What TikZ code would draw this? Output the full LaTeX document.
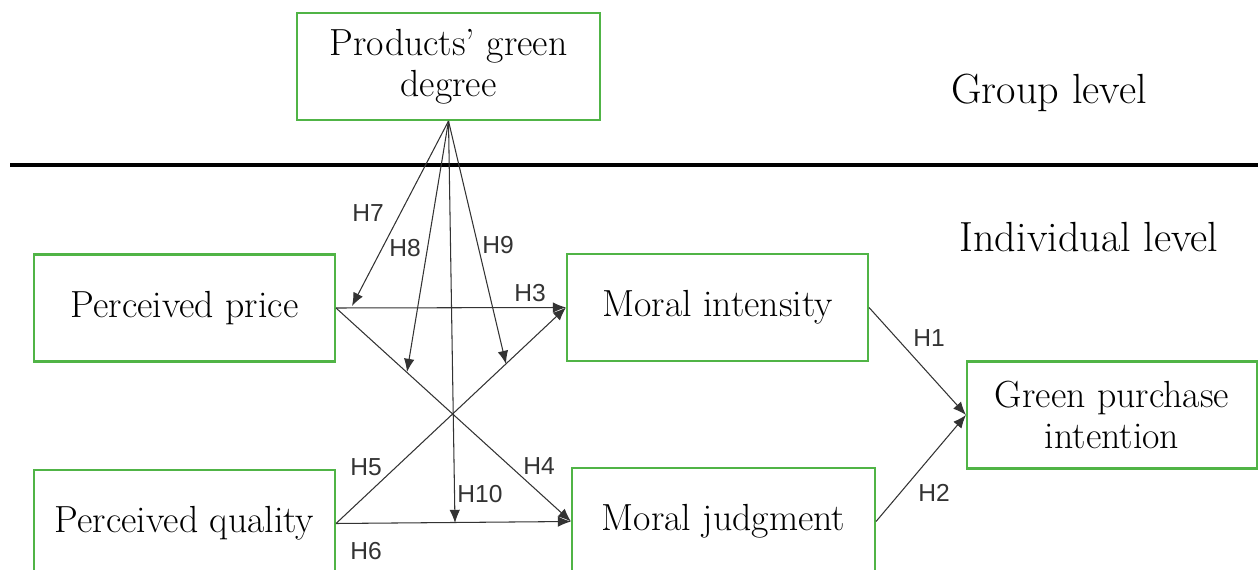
\documentclass[tikz,border=0pt]{standalone}
\usepackage{fontspec}
\newfontfamily\hypfont{Liberation Sans}
\usetikzlibrary{arrows.meta}
\definecolor{boxgreen}{RGB}{80,180,70}

\tikzset{
  varbox/.style={draw=boxgreen, line width=1.2pt, minimum width=6.02cm,
    minimum height=2.14cm, inner sep=0pt, align=center,
    font=\fontsize{21.5}{23.5}\selectfont},
  hyparrow/.style={draw=black!80, line width=0.6pt,
    -{Latex[length=7.5pt,width=6pt]}},
  hyplabel/.style={font=\hypfont\fontsize{14}{16}\selectfont, text=black!80, inner sep=0pt},
  levellabel/.style={font=\fontsize{24}{26}\selectfont}
}

\begin{document}
\begin{tikzpicture}[x=0.02cm, y=-0.02cm]
    \clip (0,0) rectangle (1258,570);
    % Boxes of the model
    \node[varbox, minimum width=6.06cm] (pgd) at (448.5,66.5) {Products’ green\\degree};
    \node[varbox] (price) at (184.5,308) {Perceived price};
    \node[varbox] (intensity) at (717.5,307.5) {Moral intensity};
    \node[varbox, minimum width=5.80cm] (gpi) at (1112,415) {Green purchase\\intention};
    \node[varbox] (quality) at (184.5,523.5) {Perceived quality};
    \node[varbox, minimum width=6.06cm] (judgment) at (723.5,521.5) {Moral judgment};
    % Levels
    \coordinate (sepL) at (10,165); % Left end
    \coordinate (sepR) at (1258,165); % Right end
    \draw[line width=1.8pt] (sepL) -- (sepR);
    \node[levellabel] (group) at (1049,93) {Group level};
    \node[levellabel] (indiv) at (1089,237) {Individual level};
    % Ends of the moderating arrows
    \coordinate (h7end)  at (352,306); % On H3
    \coordinate (h8end)  at (407,372); % On H4
    \coordinate (h9end)  at (506,364); % On H5
    \coordinate (h10end) at (455,523); % On H6
    \draw[hyparrow] (price.east) -- (intensity.west);
    \draw[hyparrow] (price.east) -- (judgment.west);
    \draw[hyparrow] (quality.east) -- (intensity.west);
    \draw[hyparrow] (quality.east) -- (judgment.west);
    \draw[hyparrow] (intensity.east) -- (gpi.west);
    \draw[hyparrow] (judgment.east) -- (gpi.west);
    \draw[hyparrow] (pgd.south) -- (h7end);
    \draw[hyparrow] (pgd.south) -- (h8end);
    \draw[hyparrow] (pgd.south) -- (h9end);
    \draw[hyparrow] (pgd.south) -- (h10end);
    % Hypothesis labels
    \node[hyplabel] (lh1)  at (929,338) {H1};
    \node[hyplabel] (lh2)  at (934,493) {H2};
    \node[hyplabel] (lh3)  at (530,293) {H3};
    \node[hyplabel] (lh4)  at (539,466) {H4};
    \node[hyplabel] (lh5)  at (366,467) {H5};
    \node[hyplabel] (lh6)  at (366,551) {H6};
    \node[hyplabel] (lh7)  at (368,213) {H7};
    \node[hyplabel] (lh8)  at (405,248) {H8};
    \node[hyplabel] (lh9)  at (498,245) {H9};
    \node[hyplabel] (lh10) at (480,494) {H10};
\end{tikzpicture}
\end{document}
